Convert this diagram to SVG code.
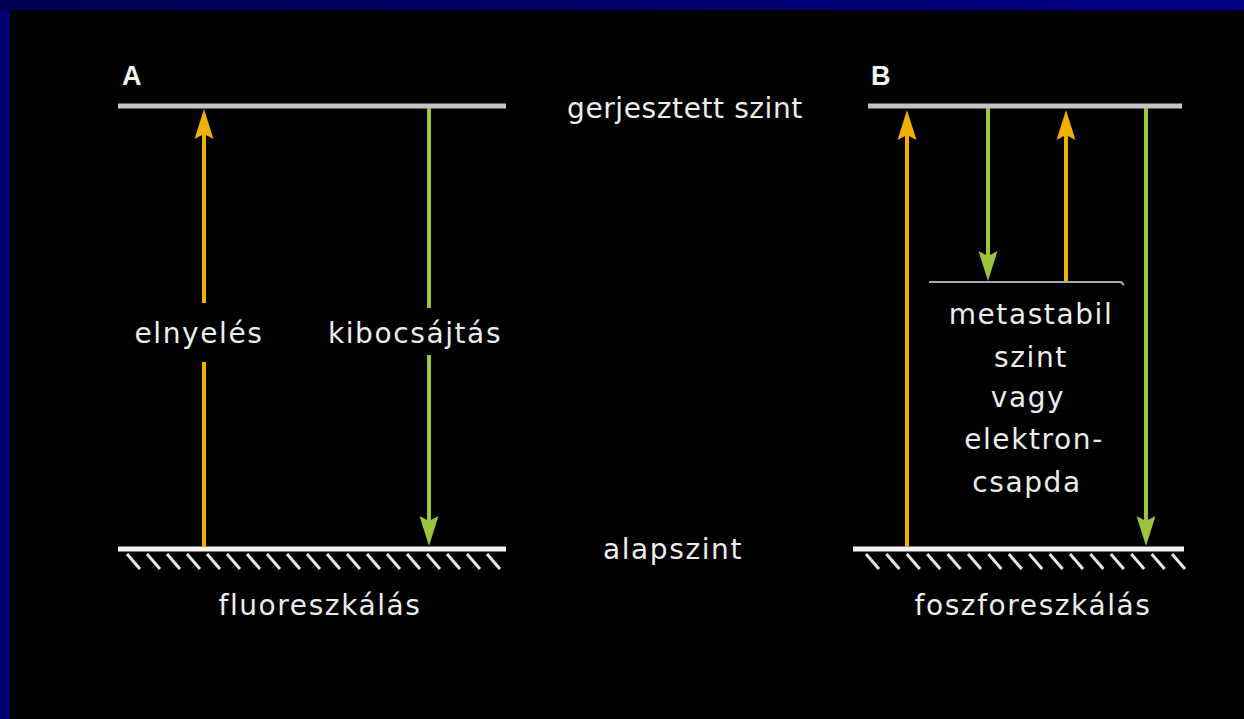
<svg xmlns="http://www.w3.org/2000/svg" xmlns:xlink="http://www.w3.org/1999/xlink" width="1244" height="719" viewBox="0 0 1244 719">
  <style>
    .txt { font-family: "DejaVu Sans", "Liberation Sans", sans-serif; font-size: 28px; letter-spacing: 1.6px; fill: #ececec; }
    .tight { letter-spacing: 0.6px; }
    .title { font-family: "Liberation Sans", Arial, sans-serif; font-size: 27px; font-weight: bold; fill: #f2f2f2; }
    .excited { stroke: #c4c4c4; stroke-width: 5; }
    .ground { stroke: #f4f4f4; stroke-width: 5; }
    .meta { stroke: #a8a8a8; stroke-width: 2; fill: none; }
    .hatch { stroke: #e6e6e6; stroke-width: 3; }
    .absorb { stroke: #f0b000; stroke-width: 4; fill: none; }
    .emit { stroke: #9cc43c; stroke-width: 4; fill: none; }
    .absorb-head { fill: #f0b000; }
    .emit-head { fill: #9cc43c; }
  </style>
  <defs>
    <linearGradient id="topBand" x1="0" y1="0" x2="1" y2="0">
      <stop offset="0" stop-color="#000050"/>
      <stop offset="1" stop-color="#000088"/>
    </linearGradient>
    <!-- arrowheads with the tip at the origin -->
    <path id="headUp" d="M0,0 L9.5,30 L0,25 L-9.5,30 Z"/>
    <path id="headDown" d="M0,0 L9.5,-30 L0,-25 L-9.5,-30 Z"/>
    <!-- one hatch stroke under a ground level -->
    <line id="tick" x1="0" y1="0" x2="13" y2="15"/>
  </defs>

  <!-- background and frame -->
  <rect x="0" y="0" width="1244" height="719" fill="#000000"/>
  <rect x="0" y="0" width="10" height="719" fill="#00006e"/>
  <rect x="0" y="0" width="1244" height="10" fill="url(#topBand)"/>

  <!-- ===== Panel A: fluorescence ===== -->
  <g id="label-a"><text class="title" x="122" y="85">A</text></g>

  <g id="level-excited-a"><line class="excited" x1="118" y1="106" x2="506" y2="106"/></g>

  <g id="level-ground-a">
    <line class="ground" x1="118" y1="549" x2="506" y2="549"/>
    <g class="hatch">
      <use xlink:href="#tick" x="127" y="554"/><use xlink:href="#tick" x="147" y="554"/>
      <use xlink:href="#tick" x="167" y="554"/><use xlink:href="#tick" x="187" y="554"/>
      <use xlink:href="#tick" x="207" y="554"/><use xlink:href="#tick" x="227" y="554"/>
      <use xlink:href="#tick" x="247" y="554"/><use xlink:href="#tick" x="267" y="554"/>
      <use xlink:href="#tick" x="287" y="554"/><use xlink:href="#tick" x="307" y="554"/>
      <use xlink:href="#tick" x="327" y="554"/><use xlink:href="#tick" x="347" y="554"/>
      <use xlink:href="#tick" x="367" y="554"/><use xlink:href="#tick" x="387" y="554"/>
      <use xlink:href="#tick" x="407" y="554"/><use xlink:href="#tick" x="427" y="554"/>
      <use xlink:href="#tick" x="447" y="554"/><use xlink:href="#tick" x="467" y="554"/>
      <use xlink:href="#tick" x="487" y="554"/>
    </g>
  </g>

  <g id="caption-a"><text class="txt" x="320" y="615" text-anchor="middle">fluoreszkálás</text></g>

  <!-- ===== shared level names ===== -->
  <g id="name-excited"><text class="txt tight" x="685" y="118" text-anchor="middle">gerjesztett szint</text></g>
  <g id="name-ground"><text class="txt" x="673" y="559" text-anchor="middle">alapszint</text></g>

  <!-- ===== Panel B: phosphorescence ===== -->
  <g id="label-b"><text class="title" x="871" y="85">B</text></g>

  <g id="level-excited-b"><line class="excited" x1="868" y1="106" x2="1182" y2="106"/></g>

  <g id="level-metastable">
    <path class="meta" d="M929,282 L1121,282 L1124,285"/>
    <text class="txt" x="1031" y="324" text-anchor="middle">metastabil</text>
    <text class="txt" x="1031" y="367" text-anchor="middle">szint</text>
    <text class="txt" x="1028" y="407" text-anchor="middle">vagy</text>
    <text class="txt" x="1034" y="449" text-anchor="middle">elektron-</text>
    <text class="txt" x="1027" y="492" text-anchor="middle">csapda</text>
  </g>

  <g id="level-ground-b">
    <line class="ground" x1="853" y1="549" x2="1184" y2="549"/>
    <g class="hatch">
      <use xlink:href="#tick" x="866" y="554"/><use xlink:href="#tick" x="886.4" y="554"/>
      <use xlink:href="#tick" x="906.8" y="554"/><use xlink:href="#tick" x="927.2" y="554"/>
      <use xlink:href="#tick" x="947.6" y="554"/><use xlink:href="#tick" x="968" y="554"/>
      <use xlink:href="#tick" x="988.4" y="554"/><use xlink:href="#tick" x="1008.8" y="554"/>
      <use xlink:href="#tick" x="1029.2" y="554"/><use xlink:href="#tick" x="1049.6" y="554"/>
      <use xlink:href="#tick" x="1070" y="554"/><use xlink:href="#tick" x="1090.4" y="554"/>
      <use xlink:href="#tick" x="1110.8" y="554"/><use xlink:href="#tick" x="1131.2" y="554"/>
      <use xlink:href="#tick" x="1151.6" y="554"/><use xlink:href="#tick" x="1172" y="554"/>
    </g>
  </g>

  <g id="caption-b"><text class="txt" x="1033" y="615" text-anchor="middle">foszforeszkálás</text></g>

  <!-- ===== transitions ===== -->
  <g id="connectors">
    <!-- A: absorption, interrupted by its label -->
    <g id="a-absorb">
      <line class="absorb" x1="204" y1="547" x2="204" y2="362"/>
      <line class="absorb" x1="204" y1="303" x2="204" y2="132"/>
      <use class="absorb-head" xlink:href="#headUp" x="204" y="109"/>
      <text class="txt" x="199" y="343" text-anchor="middle">elnyelés</text>
    </g>
    <!-- A: emission, interrupted by its label -->
    <g id="a-emit">
      <line class="emit" x1="429" y1="108" x2="429" y2="308"/>
      <line class="emit" x1="429" y1="355" x2="429" y2="523"/>
      <use class="emit-head" xlink:href="#headDown" x="429" y="546"/>
      <text class="txt" x="415" y="343" text-anchor="middle">kibocsájtás</text>
    </g>
    <!-- B: absorption to the excited level -->
    <g id="b-absorb">
      <line class="absorb" x1="907" y1="547" x2="907" y2="134"/>
      <use class="absorb-head" xlink:href="#headUp" x="907" y="110"/>
    </g>
    <!-- B: drop into the metastable level -->
    <g id="b-trap">
      <line class="emit" x1="988" y1="108" x2="988" y2="258"/>
      <use class="emit-head" xlink:href="#headDown" x="988" y="281"/>
    </g>
    <!-- B: re-excitation from the metastable level -->
    <g id="b-release">
      <line class="absorb" x1="1066" y1="281" x2="1066" y2="134"/>
      <use class="absorb-head" xlink:href="#headUp" x="1066" y="110"/>
    </g>
    <!-- B: emission to the ground level -->
    <g id="b-emit">
      <line class="emit" x1="1146" y1="108" x2="1146" y2="522"/>
      <use class="emit-head" xlink:href="#headDown" x="1146" y="546"/>
    </g>
  </g>
</svg>
